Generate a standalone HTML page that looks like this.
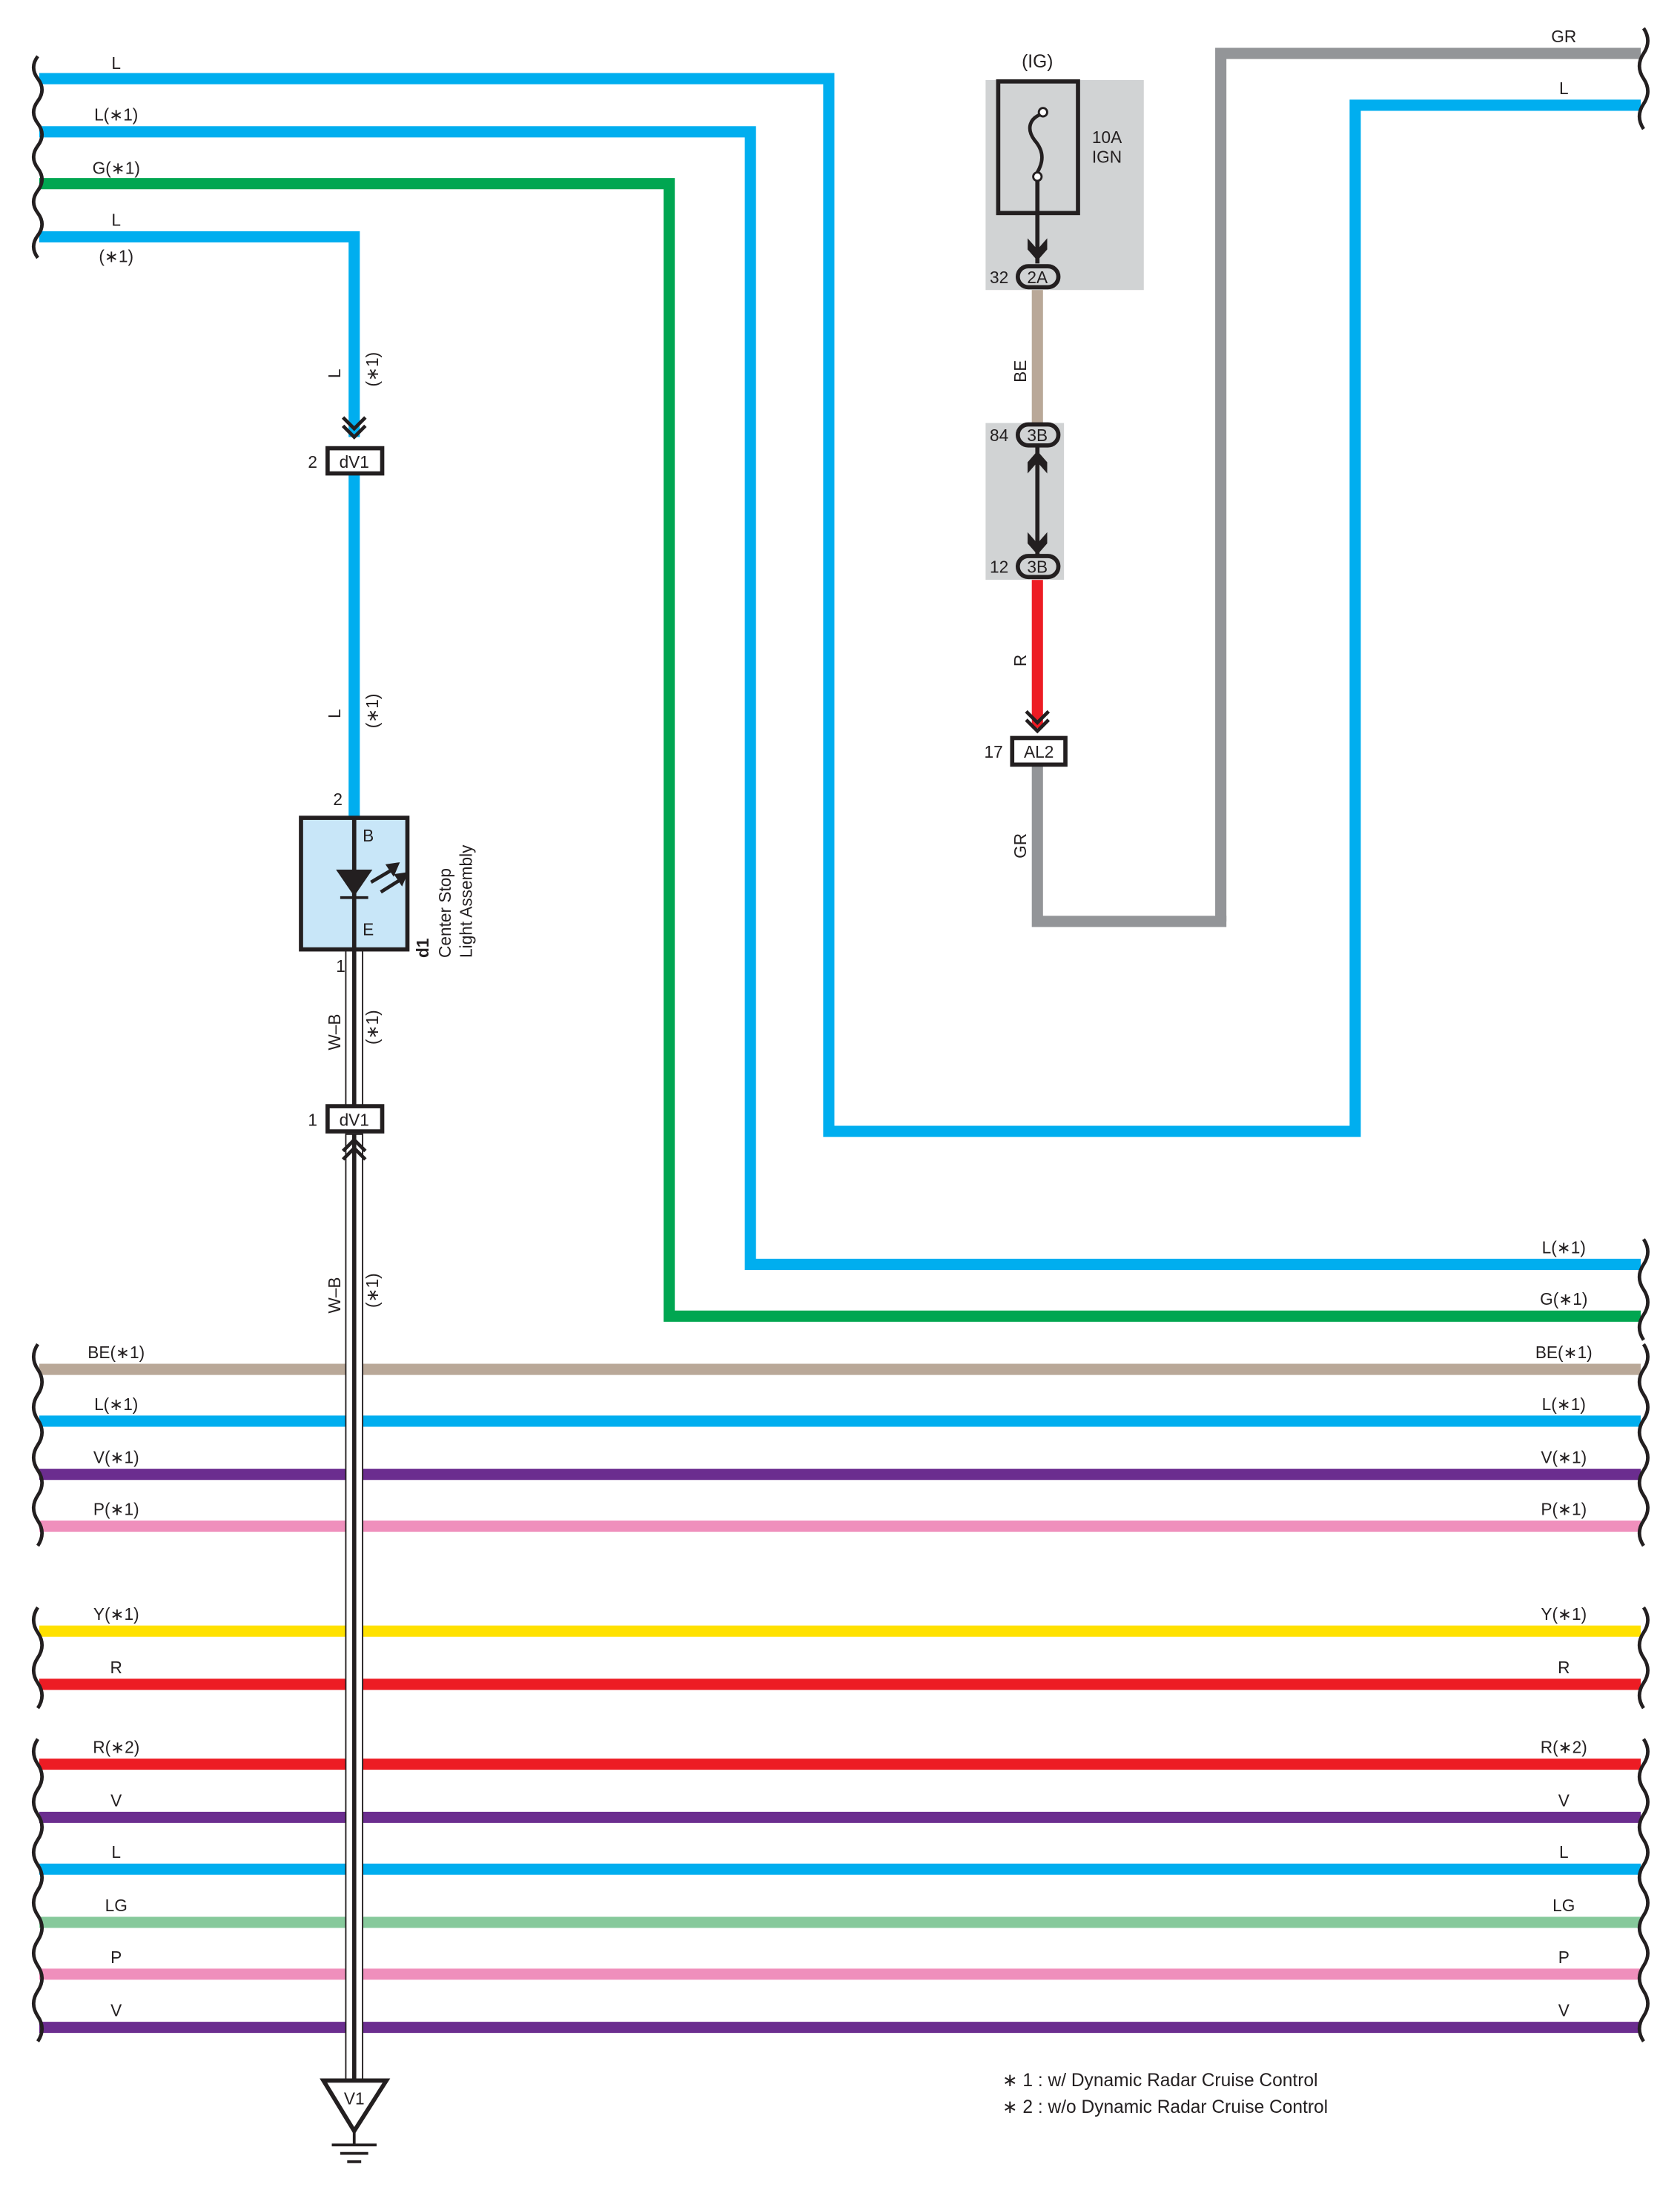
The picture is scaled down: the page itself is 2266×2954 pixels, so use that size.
<!DOCTYPE html>
<html><head><meta charset="utf-8"><style>html,body{margin:0;padding:0;background:#fff}svg{display:block}text{font-family:"Liberation Sans",sans-serif;fill:#231f20}</style></head><body>
<svg width="2266" height="2954" viewBox="0 0 1200 1564" xmlns="http://www.w3.org/2000/svg">
<g fill="none" stroke-linejoin="miter" stroke-width="8">
<polyline stroke="#00aeef" points="28,56 592,56 592,808 968,808 968,75 1172,75"/>
<polyline stroke="#00aeef" points="28,94 536,94 536,903 1172,903"/>
<polyline stroke="#00a651" points="28,131 478,131 478,940 1172,940"/>
<polyline stroke="#00aeef" points="28,169 253,169 253,312"/>
<line stroke="#00aeef" x1="253" y1="338" x2="253" y2="584"/>
<polyline stroke="#939598" points="872,658 872,38 1172,38"/>
<polyline stroke="#939598" points="741,546 741,658 876,658"/>
<line stroke="#b9a898" x1="741" y1="206" x2="741" y2="302"/>
<line stroke="#ed1c24" x1="741" y1="414" x2="741" y2="520"/>
</g>
<!-- fuse area -->
<rect x="704" y="57" width="113" height="150" fill="#d1d3d4"/>
<rect x="704" y="302" width="56" height="112" fill="#d1d3d4"/>
<rect x="713" y="58" width="57" height="94" fill="none" stroke="#231f20" stroke-width="3"/>
<path d="M745,81 C735,84 733,92 739,100 C746,108 746,116 739,126" fill="none" stroke="#231f20" stroke-width="2.5"/>
<circle cx="745" cy="80" r="3" fill="#fff" stroke="#231f20" stroke-width="1.5"/>
<circle cx="741" cy="126" r="3" fill="#fff" stroke="#231f20" stroke-width="1.5"/>
<line x1="741" y1="129" x2="741" y2="188" stroke="#231f20" stroke-width="3"/>
<path d="M734,170 L741,178 L748,170 L748,178 L741,186 L734,178Z" fill="#231f20"/>
<line x1="741" y1="318" x2="741" y2="396" stroke="#231f20" stroke-width="3"/>
<path d="M734,330 L741,322 L748,330 L748,338 L741,330 L734,338Z" fill="#231f20"/>
<path d="M734,380 L741,388 L748,380 L748,388 L741,396 L734,388Z" fill="#231f20"/>
<g fill="#d1d3d4" stroke="#231f20" stroke-width="3">
<rect x="727" y="190" width="29" height="15" rx="7.5"/>
<rect x="727" y="303" width="29" height="15" rx="7.5"/>
<rect x="727" y="397" width="29" height="15" rx="7.5"/>
</g>
<g font-size="12" text-anchor="middle">
<text x="741" y="202">2A</text><text x="741" y="315">3B</text><text x="741" y="409">3B</text>
<text x="741" y="48" font-size="13">(IG)</text>
</g>
<g font-size="12">
<text x="707" y="202">32</text><text x="707" y="315">84</text><text x="707" y="409">12</text>
<text x="780" y="102">10A</text><text x="780" y="116">IGN</text>
<text x="703" y="541">17</text>
</g>
<!-- AL2 -->
<path d="M733,508 L741,516 L749,508 M733,514 L741,522 L749,514" fill="none" stroke="#231f20" stroke-width="2.5"/>
<rect x="723" y="527" width="38" height="19" fill="#fff" stroke="#231f20" stroke-width="3"/>
<text x="742" y="541" font-size="12" text-anchor="middle">AL2</text>
<!-- dV1 top -->
<path d="M245,298 L253,306 L261,298 M245,304 L253,312 L261,304" fill="none" stroke="#231f20" stroke-width="2.5"/>
<rect x="234" y="320" width="39" height="18" fill="#fff" stroke="#231f20" stroke-width="3"/>
<text x="253" y="334" font-size="12" text-anchor="middle">dV1</text>
<text x="220" y="334" font-size="12">2</text>
<text x="238" y="575" font-size="12">2</text>
<!-- horizontal wires -->
<g stroke-width="8">
<line x1="28" y1="978" x2="1172" y2="978" stroke="#b9a898"/>
<line x1="28" y1="1015" x2="1172" y2="1015" stroke="#00aeef"/>
<line x1="28" y1="1053" x2="1172" y2="1053" stroke="#6b2d8f"/>
<line x1="28" y1="1090" x2="1172" y2="1090" stroke="#ef8fbc"/>
<line x1="28" y1="1165" x2="1172" y2="1165" stroke="#ffe100"/>
<line x1="28" y1="1203" x2="1172" y2="1203" stroke="#ed1c24"/>
<line x1="28" y1="1260" x2="1172" y2="1260" stroke="#ed1c24"/>
<line x1="28" y1="1298" x2="1172" y2="1298" stroke="#6b2d8f"/>
<line x1="28" y1="1335" x2="1172" y2="1335" stroke="#00aeef"/>
<line x1="28" y1="1373" x2="1172" y2="1373" stroke="#86c99b"/>
<line x1="28" y1="1410" x2="1172" y2="1410" stroke="#ef8fbc"/>
<line x1="28" y1="1448" x2="1172" y2="1448" stroke="#6b2d8f"/>
</g>
<!-- W-B wire -->
<rect x="247" y="678" width="12" height="112" fill="#fff" stroke="#231f20" stroke-width="1"/>
<line x1="253" y1="678" x2="253" y2="790" stroke="#231f20" stroke-width="3"/>
<rect x="247" y="810" width="12" height="676" fill="#fff" stroke="#231f20" stroke-width="1"/>
<line x1="253" y1="810" x2="253" y2="1486" stroke="#231f20" stroke-width="3"/>
<rect x="234" y="790" width="39" height="18" fill="#fff" stroke="#231f20" stroke-width="3"/>
<text x="253" y="804" font-size="12" text-anchor="middle">dV1</text>
<text x="220" y="804" font-size="12">1</text>
<path d="M245,822 L253,814 L261,822 M245,828 L253,820 L261,828" fill="none" stroke="#231f20" stroke-width="2.5"/>
<!-- Ground -->
<path d="M231,1486 L276,1486 L253,1522Z" fill="#fff" stroke="#231f20" stroke-width="3"/>
<text x="253" y="1503" font-size="12" text-anchor="middle">V1</text>
<line x1="253" y1="1522" x2="253" y2="1532" stroke="#231f20" stroke-width="2"/>
<line x1="237" y1="1532" x2="269" y2="1532" stroke="#231f20" stroke-width="2"/>
<line x1="243" y1="1538" x2="263" y2="1538" stroke="#231f20" stroke-width="2"/>
<line x1="248" y1="1544" x2="258" y2="1544" stroke="#231f20" stroke-width="2"/>
<!-- Box d1 -->
<rect x="215" y="584" width="76" height="94" fill="#c8e6f8" stroke="#231f20" stroke-width="3"/>
<line x1="253" y1="584" x2="253" y2="678" stroke="#231f20" stroke-width="3"/>
<path d="M240,621 L266,621 L253,640Z" fill="#231f20"/>
<line x1="243" y1="641" x2="263" y2="641" stroke="#231f20" stroke-width="2"/>
<path d="M265,630 L282,620 M272,637 L288,627" stroke="#231f20" stroke-width="2.5"/>
<path d="M284,617 L277,618 L281,624Z M290,624 L283,625 L287,631Z" fill="#231f20" stroke="#231f20" stroke-width="2"/>
<text x="259" y="601" font-size="12">B</text>
<text x="259" y="668" font-size="12">E</text>
<text x="240" y="694" font-size="12">1</text>
<g font-size="12">
<text transform="translate(306,684) rotate(-90)" font-weight="bold">d1</text>
<text transform="translate(322,684) rotate(-90)">Center Stop</text>
<text transform="translate(337,684) rotate(-90)">Light Assembly</text>
<text transform="translate(243,270) rotate(-90)">L</text>
<text transform="translate(270,276) rotate(-90)">(∗1)</text>
<text transform="translate(243,513) rotate(-90)">L</text>
<text transform="translate(270,520) rotate(-90)">(∗1)</text>
<text transform="translate(243,750) rotate(-90)">W–B</text>
<text transform="translate(270,746) rotate(-90)">(∗1)</text>
<text transform="translate(243,938) rotate(-90)">W–B</text>
<text transform="translate(270,934) rotate(-90)">(∗1)</text>
<text transform="translate(733,273) rotate(-90)">BE</text>
<text transform="translate(733,476) rotate(-90)">R</text>
<text transform="translate(733,613) rotate(-90)">GR</text>
</g>
<!-- labels -->
<g font-size="12" text-anchor="middle">
<text x="83" y="49">L</text><text x="83" y="86">L(∗1)</text><text x="83" y="124">G(∗1)</text><text x="83" y="161">L</text><text x="83" y="187">(∗1)</text>
<text x="1117" y="30">GR</text><text x="1117" y="67">L</text>
<text x="1117" y="895">L(∗1)</text><text x="1117" y="932">G(∗1)</text>
<text x="83" y="970">BE(∗1)</text><text x="1117" y="970">BE(∗1)</text>
<text x="83" y="1007">L(∗1)</text><text x="1117" y="1007">L(∗1)</text>
<text x="83" y="1045">V(∗1)</text><text x="1117" y="1045">V(∗1)</text>
<text x="83" y="1082">P(∗1)</text><text x="1117" y="1082">P(∗1)</text>
<text x="83" y="1157">Y(∗1)</text><text x="1117" y="1157">Y(∗1)</text>
<text x="83" y="1195">R</text><text x="1117" y="1195">R</text>
<text x="83" y="1252">R(∗2)</text><text x="1117" y="1252">R(∗2)</text>
<text x="83" y="1290">V</text><text x="1117" y="1290">V</text>
<text x="83" y="1327">L</text><text x="1117" y="1327">L</text>
<text x="83" y="1365">LG</text><text x="1117" y="1365">LG</text>
<text x="83" y="1402">P</text><text x="1117" y="1402">P</text>
<text x="83" y="1440">V</text><text x="1117" y="1440">V</text>
</g>
<g font-size="13">
<text x="716" y="1490">∗ 1 : w/ Dynamic Radar Cruise Control</text>
<text x="716" y="1509">∗ 2 : w/o Dynamic Radar Cruise Control</text>
</g>
<!-- brackets -->
<g fill="none" stroke="#231f20" stroke-width="2.5">
<path d="M27,40 q-6,8 0,16 q6,8 0,16 q-6,8 0,16 q6,8 0,16 q-6,8 0,16 q6,8 0,16 q-6,8 0,16 q6,8 0,16 q-6,8 0,16"/>
<path d="M27,960 q-6,9 0,18 q6,9 0,18 q-6,9 0,18 q6,9 0,18 q-6,9 0,18 q6,9 0,18 q-6,9 0,18 q6,9 0,18"/>
<path d="M27,1148 q-6,9 0,18 q6,9 0,18 q-6,9 0,18 q6,9 0,18"/>
<path d="M27,1242 q-6,9 0,18 q6,9 0,18 q-6,9 0,18 q6,9 0,18 q-6,9 0,18 q6,9 0,18 q-6,9 0,18 q6,9 0,18 q-6,9 0,18 q6,9 0,18 q-6,9 0,18 q6,9 0,18"/>
<path d="M1174,20 q6,9 0,18 q-6,9 0,18 q6,9 0,18 q-6,9 0,18"/>
<path d="M1174,885 q6,9 0,18 q-6,9 0,18 q6,9 0,18 q-6,9 0,18"/>
<path d="M1174,960 q6,9 0,18 q-6,9 0,18 q6,9 0,18 q-6,9 0,18 q6,9 0,18 q-6,9 0,18 q6,9 0,18 q-6,9 0,18"/>
<path d="M1174,1148 q6,9 0,18 q-6,9 0,18 q6,9 0,18 q-6,9 0,18"/>
<path d="M1174,1242 q6,9 0,18 q-6,9 0,18 q6,9 0,18 q-6,9 0,18 q6,9 0,18 q-6,9 0,18 q6,9 0,18 q-6,9 0,18 q6,9 0,18 q-6,9 0,18 q6,9 0,18 q-6,9 0,18"/>
</g>
</svg>
</body></html>
